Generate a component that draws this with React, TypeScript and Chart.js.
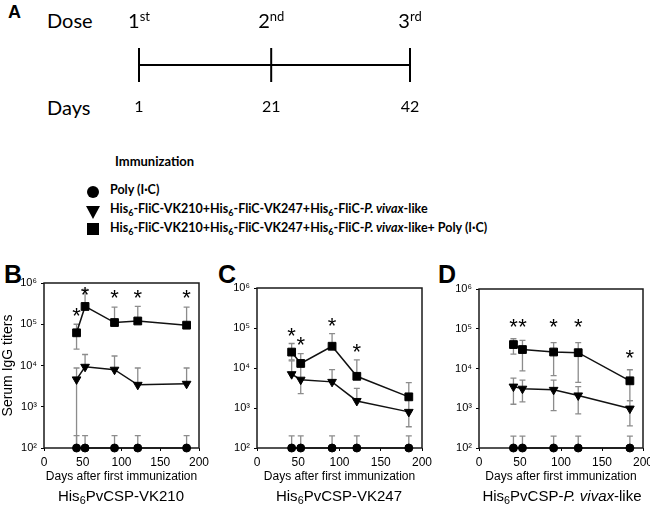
import React, { useEffect, useRef } from "react";
import { Chart, registerables } from "chart.js";
Chart.register(...registerables);

// ---------- data ----------
const doseDays = [1, 21, 42];
const doseNumbers = ["1", "2", "3"];
const doseSuffixes = ["st", "nd", "rd"];

const days = [42, 53, 91, 121, 184];
const xTicks = [0, 50, 100, 150, 200];
const yDecades = [100, 1000, 10000, 100000, 1000000];
const yTickLabels = ["10²", "10³", "10⁴", "10⁵", "10⁶"];

const polyMean = [100, 100, 100, 100, 100];
const polyUpper = [200, 200, 200, 200, 200];

// Panel B: His6PvCSP-VK210
const bTri = [4600, 9300, 7900, 3400, 3600];
const bTriUpper = [8700, 18500, 17000, 8700, 8700];
const bTriLower = [100, null, null, null, null];
const bSq = [62000, 270000, 110000, 120000, 95000];
const bSqUpper = [100000, 700000, 260000, 270000, 260000];
const bSqLower = [25000, null, null, null, null];
const bStars = [210000, 710000, 590000, 590000, 590000];

// Panel C: His6PvCSP-VK247
const cTri = [7000, 5100, 4500, 1500, 800];
const cTriUpper = [15000, 11000, 9100, 3100, 1700];
const cTriLower = [null, 2300, null, null, 340];
const cSq = [25000, 13000, 35000, 6200, 1900];
const cSqUpper = [41000, 23000, 72000, 16000, 4300];
const cSqLower = [16000, null, null, null, null];
const cStars = [88000, 52000, 150000, 34000, null];

// Panel D: His6PvCSP-P. vivax-like
const dTri = [3500, 3100, 2900, 2100, 980];
const dTriUpper = [5700, 5100, 5100, 3500, 1550];
const dTriLower = [1260, 1450, 870, 720, 360];
const dSq = [40000, 30000, 26000, 25000, 4900];
const dSqUpper = [56000, 51000, 45000, 45000, 9300];
const dSqLower = [23000, 8700, 6600, 4500, 1550];
const dStars = [155000, 155000, 155000, 155000, 25000];

const AXIS_FONT = "'Liberation Sans', Arial, sans-serif";
const LATO = "Lato, 'Open Sans', sans-serif";

// ---------- plugins ----------
const boxPlugin = {
  id: "boxPlugin",
  beforeDatasetsDraw(chart: any) {
    const { ctx, chartArea: a } = chart;
    ctx.save();
    ctx.strokeStyle = "#1a1a1a";
    ctx.lineWidth = 1.5;
    ctx.strokeRect(a.left, a.top, a.right - a.left, a.bottom - a.top);
    ctx.restore();
  },
};

function makeErrorPlugin(bars: { mean: number[]; upper: (number | null)[]; lower: (number | null)[] }[]) {
  return {
    id: "errorBars",
    beforeDatasetsDraw(chart: any) {
      const { ctx } = chart;
      const xs = chart.scales.x;
      const ys = chart.scales.y;
      ctx.save();
      ctx.strokeStyle = "#8c8c8c";
      ctx.lineWidth = 1.3;
      const cap = 3;
      bars.forEach((b) => {
        days.forEach((d, i) => {
          const px = xs.getPixelForValue(d);
          const py = ys.getPixelForValue(b.mean[i]);
          const ends = [b.upper[i], b.lower[i]];
          ends.forEach((v) => {
            if (v == null) return;
            const pe = ys.getPixelForValue(v);
            ctx.beginPath();
            ctx.moveTo(px, py);
            ctx.lineTo(px, pe);
            ctx.moveTo(px - cap, pe);
            ctx.lineTo(px + cap, pe);
            ctx.stroke();
          });
        });
      });
      ctx.restore();
    },
  };
}

function makeStarPlugin(stars: (number | null)[]) {
  return {
    id: "stars",
    afterDatasetsDraw(chart: any) {
      const { ctx } = chart;
      const xs = chart.scales.x;
      const ys = chart.scales.y;
      const size = 22;
      ctx.save();
      ctx.fillStyle = "#000";
      ctx.font = `${size}px ${AXIS_FONT}`;
      ctx.textAlign = "center";
      ctx.textBaseline = "alphabetic";
      stars.forEach((s, i) => {
        if (s == null) return;
        const px = xs.getPixelForValue(days[i]);
        const py = ys.getPixelForValue(s);
        ctx.fillText("*", px, py + size * 0.57);
      });
      ctx.restore();
    },
  };
}

type PanelSpec = {
  tri: number[];
  triUpper: (number | null)[];
  triLower: (number | null)[];
  sq: number[];
  sqUpper: (number | null)[];
  sqLower: (number | null)[];
  stars: (number | null)[];
  yTitle?: string;
  axisWidth: number;
  padTop: number;
  padRight: number;
  padBottom: number;
};

function panelConfig(p: PanelSpec): any {
  const pts = (vals: number[]) => days.map((d, i) => ({ x: d, y: vals[i] }));
  const common = {
    borderColor: "#111",
    borderWidth: 1.5,
    pointBackgroundColor: "#000",
    pointBorderColor: "#000",
    pointBorderWidth: 1,
    clip: false,
    tension: 0,
  };
  return {
    type: "line",
    data: {
      datasets: [
        { ...common, data: pts(polyMean), pointStyle: "circle", pointRadius: 4 },
        { ...common, data: pts(p.tri), pointStyle: "triangle", pointRotation: 180, pointRadius: 5 },
        { ...common, data: pts(p.sq), pointStyle: "rect", pointRadius: 5.5 },
      ],
    },
    options: {
      animation: false,
      responsive: false,
      events: [],
      layout: { padding: { left: 0, top: p.padTop, right: p.padRight, bottom: p.padBottom } },
      plugins: { legend: { display: false }, tooltip: { enabled: false } },
      scales: {
        x: {
          type: "linear",
          min: 0,
          max: 200,
          afterBuildTicks: (s: any) => {
            s.ticks = xTicks.map((v) => ({ value: v }));
          },
          afterFit: (s: any) => {
            s.paddingLeft = 0;
            s.paddingRight = 0;
            s.height = 40;
          },
          ticks: {
            color: "#000",
            padding: 4,
            font: { family: AXIS_FONT, size: 12 },
            maxRotation: 0,
            autoSkip: false,
          },
          grid: { drawOnChartArea: false, tickLength: 3, color: "#000" },
          border: { display: false },
          title: {
            display: true,
            text: "Days after first immunization",
            color: "#000",
            font: { family: AXIS_FONT, size: 12 },
            padding: { top: 0, bottom: 4 },
          },
        },
        y: {
          type: "logarithmic",
          min: 100,
          max: 1000000,
          afterBuildTicks: (s: any) => {
            s.ticks = yDecades.map((v) => ({ value: v }));
          },
          afterFit: (s: any) => {
            s.width = p.axisWidth;
            s.paddingTop = 0;
            s.paddingBottom = 0;
          },
          ticks: {
            color: "#000",
            padding: 4,
            font: { family: AXIS_FONT, size: 11 },
            callback: (v: number) => {
              const i = yDecades.indexOf(v);
              return i >= 0 ? yTickLabels[i] : "";
            },
          },
          grid: { drawOnChartArea: false, tickLength: 3, color: "#000" },
          border: { display: false },
          title: {
            display: !!p.yTitle,
            text: p.yTitle || "",
            color: "#000",
            font: { family: AXIS_FONT, size: 14 },
            padding: 0,
          },
        },
      },
    },
    plugins: [
      boxPlugin,
      makeErrorPlugin([
        { mean: polyMean, upper: polyUpper, lower: polyMean.map(() => null) },
        { mean: p.tri, upper: p.triUpper, lower: p.triLower },
        { mean: p.sq, upper: p.sqUpper, lower: p.sqLower },
      ]),
      makeStarPlugin(p.stars),
    ],
  };
}

function timelineConfig(): any {
  const labelPlugin = {
    id: "doseLabels",
    afterDraw(chart: any) {
      const { ctx } = chart;
      const xs = chart.scales.x;
      ctx.save();
      ctx.fillStyle = "#000";
      ctx.textBaseline = "alphabetic";
      doseDays.forEach((d, i) => {
        const px = xs.getPixelForValue(d);
        ctx.font = `20px ${LATO}`;
        const w1 = ctx.measureText(doseNumbers[i]).width;
        ctx.font = `13px ${LATO}`;
        const w2 = ctx.measureText(doseSuffixes[i]).width;
        const start = px - (w1 + w2) / 2;
        ctx.textAlign = "left";
        ctx.font = `20px ${LATO}`;
        ctx.fillText(doseNumbers[i], start, 28);
        ctx.font = `13px ${LATO}`;
        ctx.fillText(doseSuffixes[i], start + w1, 21);
        ctx.textAlign = "center";
        ctx.font = `16px ${LATO}`;
        ctx.fillText(String(d), px, 112);
      });
      ctx.restore();
    },
  };
  return {
    type: "line",
    data: {
      datasets: [
        {
          data: doseDays.map((d) => ({ x: d, y: 0 })),
          borderColor: "#000",
          borderWidth: 2,
          pointStyle: "line",
          pointRotation: 90,
          pointRadius: 17,
          pointBorderWidth: 2,
          pointBorderColor: "#000",
          clip: false,
        },
      ],
    },
    options: {
      animation: false,
      responsive: false,
      events: [],
      layout: { padding: { left: 139, right: 240, top: 45, bottom: 45 } },
      plugins: { legend: { display: false }, tooltip: { enabled: false } },
      scales: {
        x: { type: "linear", min: 1, max: 42, display: false },
        y: { type: "linear", min: -1, max: 1, display: false },
      },
    },
    plugins: [labelPlugin],
  };
}

function ChartCanvas(props: { left: number; top: number; width: number; height: number; config: () => any }) {
  const ref = useRef<HTMLCanvasElement>(null);
  useEffect(() => {
    const chart = new Chart(ref.current as HTMLCanvasElement, props.config());
    return () => chart.destroy();
  }, []);
  return (
    <canvas
      ref={ref}
      width={props.width}
      height={props.height}
      style={{ position: "absolute", left: props.left, top: props.top, width: props.width, height: props.height }}
    />
  );
}

const Sub = ({ children }: { children: React.ReactNode }) => (
  <span style={{ fontSize: "0.72em", verticalAlign: "-0.28em", lineHeight: 0 }}>{children}</span>
);

const his = (
  <>
    His<Sub>6</Sub>-FliC-
  </>
);

export default function App() {
  const abs = (extra: React.CSSProperties): React.CSSProperties => ({
    position: "absolute",
    whiteSpace: "nowrap",
    lineHeight: 1,
    color: "#000",
    ...extra,
  });
  const legendText: React.CSSProperties = { fontFamily: LATO, fontWeight: 700, fontSize: 12.5, left: 110 };
  const letter: React.CSSProperties = { top: 261.7, fontFamily: AXIS_FONT, fontWeight: 700, fontSize: 25 };
  const title = (center: number, content: React.ReactNode) => (
    <div
      style={abs({
        left: center - 120,
        width: 240,
        textAlign: "center",
        top: 488,
        fontFamily: AXIS_FONT,
        fontSize: 15,
      })}
    >
      {content}
    </div>
  );
  return (
    <div
      style={{
        position: "fixed",
        left: 0,
        top: 0,
        width: 650,
        height: 506,
        background: "#fff",
        overflow: "hidden",
      }}
    >
      {/* Panel A */}
      <div style={abs({ left: 8, top: 2.7, fontFamily: AXIS_FONT, fontWeight: 700, fontSize: 18 })}>A</div>
      <div style={abs({ left: 47, top: 9.6, fontFamily: LATO, fontSize: 20 })}>Dose</div>
      <div style={abs({ left: 47, top: 96.6, fontFamily: LATO, fontSize: 20 })}>Days</div>
      <ChartCanvas left={0} top={0} width={650} height={130} config={timelineConfig} />

      {/* Legend */}
      <div style={abs({ left: 115, top: 154.8, fontFamily: LATO, fontWeight: 700, fontSize: 13 })}>Immunization</div>
      <div style={abs({ left: 87, top: 186, width: 12, height: 12, borderRadius: "50%", background: "#000" })} />
      <div
        style={abs({
          left: 86,
          top: 206,
          width: 0,
          height: 0,
          borderLeft: "7px solid transparent",
          borderRight: "7px solid transparent",
          borderTop: "13px solid #000",
        })}
      />
      <div style={abs({ left: 87, top: 223, width: 12, height: 12, background: "#000" })} />
      <div style={abs({ ...legendText, top: 184.4 })}>Poly (I·C)</div>
      <div style={abs({ ...legendText, top: 203.4 })}>
        {his}VK210+{his}VK247+{his}
        <i>P. vivax</i>-like
      </div>
      <div style={abs({ ...legendText, top: 222.4 })}>
        {his}VK210+{his}VK247+{his}
        <i>P. vivax</i>-like+ Poly (I·C)
      </div>

      {/* Panel letters */}
      <div style={abs({ ...letter, left: 4 })}>B</div>
      <div style={abs({ ...letter, left: 218 })}>C</div>
      <div style={abs({ ...letter, left: 438 })}>D</div>

      {/* Panels */}
      <ChartCanvas
        left={0}
        top={275}
        width={215}
        height={231}
        config={() =>
          panelConfig({
            tri: bTri, triUpper: bTriUpper, triLower: bTriLower,
            sq: bSq, sqUpper: bSqUpper, sqLower: bSqLower,
            stars: bStars, yTitle: "Serum IgG titers",
            axisWidth: 44, padTop: 8, padRight: 16, padBottom: 18,
          })
        }
      />
      <ChartCanvas
        left={215}
        top={275}
        width={225}
        height={231}
        config={() =>
          panelConfig({
            tri: cTri, triUpper: cTriUpper, triLower: cTriLower,
            sq: cSq, sqUpper: cSqUpper, sqLower: cSqLower,
            stars: cStars,
            axisWidth: 42, padTop: 13, padRight: 18, padBottom: 18,
          })
        }
      />
      <ChartCanvas
        left={430}
        top={275}
        width={220}
        height={231}
        config={() =>
          panelConfig({
            tri: dTri, triUpper: dTriUpper, triLower: dTriLower,
            sq: dSq, sqUpper: dSqUpper, sqLower: dSqLower,
            stars: dStars,
            axisWidth: 49, padTop: 14, padRight: 7, padBottom: 18,
          })
        }
      />

      {/* Panel titles */}
      {title(121, <>His<Sub>6</Sub>PvCSP-VK210</>)}
      {title(339, <>His<Sub>6</Sub>PvCSP-VK247</>)}
      {title(562, <>His<Sub>6</Sub>PvCSP-<i>P. vivax</i>-like</>)}
    </div>
  );
}
